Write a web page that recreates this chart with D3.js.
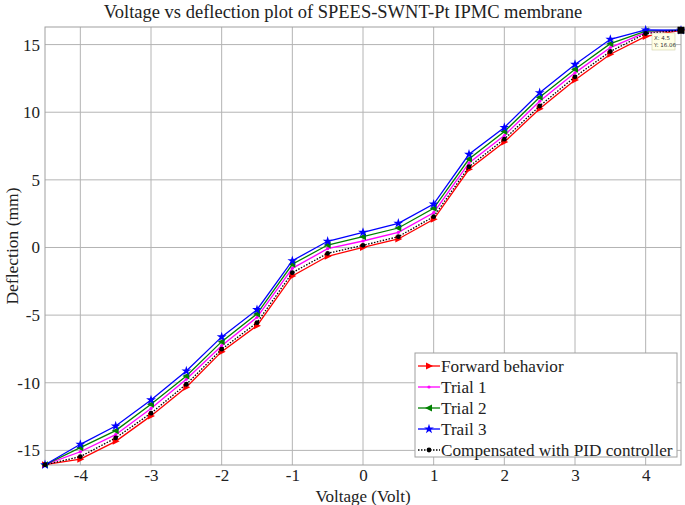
<!DOCTYPE html>
<html><head><meta charset="utf-8">
<script src="https://cdn.jsdelivr.net/npm/d3@7"></script>
<style>body{margin:0;background:#fff;} svg{display:block;} .sf{font-family:"Liberation Serif","Times New Roman",serif;}</style>
</head><body>
<svg id="c" width="685" height="505"></svg>
<script>
const voltage = [-4.5,-4,-3.5,-3,-2.5,-2,-1.5,-1,-0.5,0,0.5,1,1.5,2,2.5,3,3.5,4,4.5];
const forward = [-16.06,-15.65,-14.33,-12.45,-10.33,-7.7,-5.78,-2.1,-0.65,0.0,0.63,2.08,5.78,7.79,10.26,12.38,14.29,15.6,16.06];
const trial1  = [-16.06,-15.1,-13.84,-11.91,-9.74,-7.26,-5.16,-1.54,-0.09,0.48,1.12,2.57,6.25,8.28,10.81,12.91,14.78,15.9,16.06];
const trial2  = [-16.06,-14.8,-13.54,-11.59,-9.5,-6.96,-4.91,-1.24,0.18,0.8,1.44,2.9,6.54,8.57,11.1,13.18,15.07,16.0,16.06];
const trail3  = [-16.06,-14.55,-13.2,-11.27,-9.13,-6.61,-4.6,-0.98,0.46,1.12,1.79,3.21,6.89,8.87,11.44,13.53,15.39,16.08,16.06];
const pid     = [-16.06,-15.46,-14.08,-12.25,-10.11,-7.52,-5.56,-1.86,-0.43,0.16,0.8,2.28,5.97,8.01,10.46,12.62,14.49,15.82,16.06];
const xTicks = [-4,-3,-2,-1,0,1,2,3,4];
const yTicks = [-15,-10,-5,0,5,10,15];
const seriesNames = ["Forward behavior","Trial 1","Trial 2","Trail 3","Compensated with PID controller"];
const seriesColors = ["#ff0000","#ff00ff","#008000","#0000ff","#000000"];
const seriesMarkers = ["triRight","dot","triLeft","star","dotBlack"];
const seriesData = [forward, trial1, trial2, trail3, pid];

const svg = d3.select("#c");
const L=45, R=681, T=27, B=465;
const x = d3.scaleLinear().domain([-4.5,4.5]).range([L,R]);
const y = d3.scaleLinear().domain([-16.08,16.3]).range([B,T]);
const fmt = d => String(d);

// grid
svg.append("g").selectAll("line").data(xTicks).join("line")
  .attr("x1",d=>x(d)).attr("x2",d=>x(d)).attr("y1",T).attr("y2",B)
  .attr("stroke","#b4b4b4").attr("stroke-width",1);
svg.append("g").selectAll("line").data(yTicks).join("line")
  .attr("x1",L).attr("x2",R).attr("y1",d=>y(d)).attr("y2",d=>y(d))
  .attr("stroke","#b4b4b4").attr("stroke-width",1);
svg.append("rect").attr("x",L).attr("y",T).attr("width",R-L).attr("height",B-T)
  .attr("fill","none").attr("stroke","#a0a0a0").attr("stroke-width",1);

// axes
const xa = svg.append("g").attr("transform",`translate(0,${B})`)
  .call(d3.axisBottom(x).tickValues(xTicks).tickSize(0).tickPadding(4).tickFormat(fmt));
xa.select(".domain").remove();
xa.attr("font-family",null).attr("font-size",null);
xa.selectAll("text").attr("class","sf").style("font-size","17px").attr("fill","#222");
const ya = svg.append("g").attr("transform",`translate(${L},0)`)
  .call(d3.axisLeft(y).tickValues(yTicks).tickSize(0).tickPadding(5).tickFormat(fmt));
ya.select(".domain").remove();
ya.attr("font-family",null).attr("font-size",null);
ya.selectAll("text").attr("class","sf").style("font-size","17px").attr("fill","#222");

// title & labels
svg.append("text").attr("class","sf").attr("x",343).attr("y",18).attr("text-anchor","middle")
  .style("font-size","18.5px").attr("fill","#222")
  .text("Voltage vs deflection plot of SPEES-SWNT-Pt IPMC membrane");
svg.append("text").attr("class","sf").attr("x",(L+R)/2).attr("y",502).attr("text-anchor","middle")
  .style("font-size","17px").attr("fill","#222").text("Voltage (Volt)");
svg.append("text").attr("class","sf").attr("transform",`translate(18,${(T+B)/2}) rotate(-90)`).attr("text-anchor","middle")
  .style("font-size","17.5px").attr("fill","#222").text("Deflection (mm)");

function drawMarker(g, type, color, cx, cy){
  if(type==="triRight"){
    g.append("path").attr("d",`M${cx+4},${cy} L${cx-3},${cy-3.5} L${cx-3},${cy+3.5} Z`).attr("fill",color);
  } else if(type==="triLeft"){
    g.append("path").attr("d",`M${cx-4},${cy} L${cx+3},${cy-3.5} L${cx+3},${cy+3.5} Z`).attr("fill",color);
  } else if(type==="star"){
    g.append("path").attr("d",d3.symbol().type(d3.symbolStar).size(30)()).attr("transform",`translate(${cx},${cy})`).attr("fill",color);
  } else if(type==="dot"){
    g.append("circle").attr("cx",cx).attr("cy",cy).attr("r",1.6).attr("fill",color);
  } else {
    g.append("circle").attr("cx",cx).attr("cy",cy).attr("r",2.4).attr("fill",color);
  }
}

const line = d3.line().x((d,i)=>x(voltage[i])).y(d=>y(d));
seriesData.forEach((data,k)=>{
  const g = svg.append("g");
  g.append("path").datum(data).attr("d",line).attr("fill","none")
    .attr("stroke",seriesColors[k]).attr("stroke-width",1.3)
    .attr("stroke-dasharray", k===4 ? "1.5,1.5" : null);
  data.forEach((v,i)=>drawMarker(g, seriesMarkers[k], seriesColors[k], x(voltage[i]), y(v)));
});

// data tip
const tipX = voltage[voltage.length-1], tipY = pid[pid.length-1];
svg.append("rect").attr("x",x(tipX)-3.5).attr("y",y(tipY)-3.5).attr("width",7).attr("height",7).attr("fill","#000");
svg.append("rect").attr("x",652).attr("y",33).attr("width",23).attr("height",17)
  .attr("fill","#ffffe6").attr("stroke","#cfcfa8").attr("stroke-width",0.6);
svg.append("text").attr("x",654).attr("y",40).style("font-family","'DejaVu Sans',sans-serif").style("font-size","5.5px").attr("fill","#333").text("X: " + tipX);
svg.append("text").attr("x",654).attr("y",47).style("font-family","'DejaVu Sans',sans-serif").style("font-size","5.5px").attr("fill","#333").text("Y: " + tipY);

// legend
const lg = svg.append("g");
lg.append("rect").attr("x",415).attr("y",353).attr("width",262).attr("height",104)
  .attr("fill","#fff").attr("stroke","#a0a0a0").attr("stroke-width",1);
const ly0 = 366, ldy = 21;
seriesNames.forEach((name,k)=>{
  const yy = ly0 + k*ldy;
  lg.append("line").attr("x1",418).attr("x2",440).attr("y1",yy).attr("y2",yy)
    .attr("stroke",seriesColors[k]).attr("stroke-width",1.3)
    .attr("stroke-dasharray", k===4 ? "1.5,1.5" : null);
  drawMarker(lg, seriesMarkers[k], seriesColors[k], 429, yy);
  lg.append("text").attr("class","sf").attr("x",441).attr("y",yy+6).style("font-size","17.2px")
    .attr("fill","#222").text(name);
});
</script>
</body></html>
